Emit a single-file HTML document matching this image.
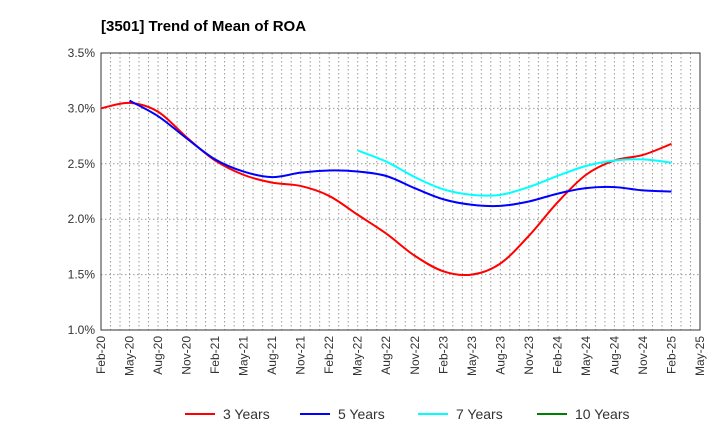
<!DOCTYPE html>
<html><head><meta charset="utf-8"><style>
body{margin:0;background:#fff;font-family:"Liberation Sans",Arial,sans-serif;}
svg{display:block}
</style></head><body>
<svg width="720" height="440" xmlns="http://www.w3.org/2000/svg">
<text x="101" y="31" font-size="15" font-weight="bold" fill="#000">[3501]  Trend of Mean of ROA</text>
<g id="grid"></g><g id="axes"></g><g id="series"></g><g id="legend"></g>
</svg>
<script>
const xLabels=["Feb-20","May-20","Aug-20","Nov-20","Feb-21","May-21","Aug-21","Nov-21","Feb-22","May-22","Aug-22","Nov-22","Feb-23","May-23","Aug-23","Nov-23","Feb-24","May-24","Aug-24","Nov-24","Feb-25","May-25"];
const yTicks=[1.0,1.5,2.0,2.5,3.0,3.5];
const seriesNames=["3 Years","5 Years","7 Years","10 Years"];
const seriesColors=["#ff0000","#0000ff","#00ffff","#008000"];
const y3=[3.00,3.05,2.97,2.74,2.53,2.40,2.33,2.30,2.21,2.04,1.87,1.67,1.53,1.50,1.60,1.85,2.15,2.40,2.53,2.58,2.68];
const y5=[null,3.07,2.93,2.73,2.54,2.43,2.38,2.42,2.44,2.43,2.39,2.28,2.18,2.13,2.12,2.16,2.23,2.28,2.29,2.26,2.25];
const y7=[null,null,null,null,null,null,null,null,null,2.62,2.52,2.38,2.27,2.22,2.22,2.29,2.39,2.48,2.53,2.54,2.51];
const y10=[];
const NS="http://www.w3.org/2000/svg";
const L=101,R=700,T=53,B=330;
const xs=i=>L+(R-L)*i/21;
const ys=v=>B-(B-T)*(v-1.0)/2.5;
function mk(t,a,p){const e=document.createElementNS(NS,t);for(const k in a)e.setAttribute(k,a[k]);p.appendChild(e);return e;}
const grid=document.getElementById('grid'),axes=document.getElementById('axes');
for(let m=1;m<63;m++){const x=L+(R-L)*m/63;
const g=mk('line',{x1:x,x2:x,y1:T,y2:B,stroke:'#999','stroke-dasharray':'1.5,2.5','stroke-width':1},grid);

}
yTicks.forEach(v=>{const y=ys(v);
if(v>1&&v<3.5){const g=mk('line',{x1:L,x2:R,y1:y,y2:y,stroke:'#999','stroke-dasharray':'1.5,2.5'},grid);

}
const t=mk('text',{x:L-6,y:y+4,'text-anchor':'end','font-size':12,fill:'#333'},axes);t.textContent=v.toFixed(1)+'%';

});
const fr=mk('rect',{x:L,y:T,width:R-L,height:B-T,fill:'none',stroke:'#333','stroke-width':1},axes);


xLabels.forEach((s,i)=>{const x=xs(i);
const t=mk('text',{transform:`translate(${x+4},${B+6}) rotate(-90)`,'text-anchor':'end','font-size':12,fill:'#333'},axes);t.textContent=s;

});
function path(arr){const pts=[];arr.forEach((v,i)=>{if(v!=null)pts.push([xs(i),ys(v)]);});
if(pts.length<2)return '';let d=`M${pts[0][0]},${pts[0][1]}`;
for(let i=0;i<pts.length-1;i++){const p0=pts[i-1]||pts[i],p1=pts[i],p2=pts[i+1],p3=pts[i+2]||p2;
d+=` C${p1[0]+(p2[0]-p0[0])/6},${p1[1]+(p2[1]-p0[1])/6} ${p2[0]-(p3[0]-p1[0])/6},${p2[1]-(p3[1]-p1[1])/6} ${p2[0]},${p2[1]}`;}
return d;}
const sg=document.getElementById('series');
[y3,y5,y7,y10].forEach((a,k)=>{const d=path(a);if(!d)return;
const p=mk('path',{d:d,fill:'none',stroke:seriesColors[k],'stroke-width':2},sg);

});
const lg=document.getElementById('legend');const lx=[185,300,418,537];
seriesNames.forEach((n,k)=>{
const g=mk('g',{},lg);


mk('line',{x1:lx[k],x2:lx[k]+30,y1:414,y2:414,stroke:seriesColors[k],'stroke-width':2},g);
const t=mk('text',{x:lx[k]+38,y:419,'font-size':14,fill:'#333'},g);t.textContent=n;});
</script>
</body></html>
